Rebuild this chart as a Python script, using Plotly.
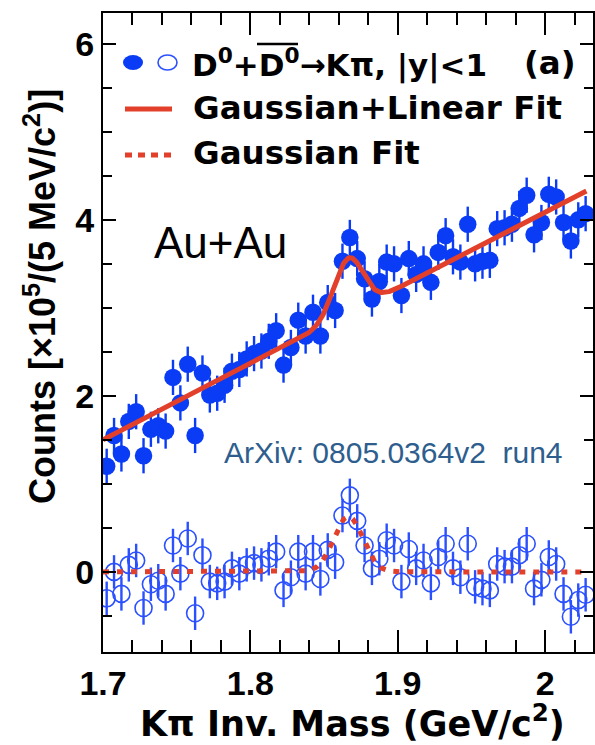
import numpy as np
import plotly.graph_objects as go

# ---------------- data ----------------
BIN_START = 1.7
BIN_WIDTH = 0.005
N_BINS = 66
mass = np.round(BIN_START + BIN_WIDTH * (np.arange(N_BINS) + 0.5), 4)

# filled points: D0 + D0bar candidates (x10^5 per 5 MeV/c^2)
counts_total = [
    1.20, 1.55, 1.34, 1.71, 1.82, 1.32, 1.62, 1.66, 1.60, 2.21,
    1.92, 2.36, 1.55, 2.26, 2.01, 2.03, 2.12, 2.28, 2.30, 2.42,
    2.48, 2.51, 2.62, 2.74, 2.35, 2.55, 2.86, 2.68, 2.95, 2.68,
    3.06, 2.97, 3.53, 3.80, 3.56, 3.33, 3.10, 3.30, 3.52, 3.50,
    3.14, 3.56, 3.38, 3.50, 3.29, 3.63, 3.82, 3.58, 3.52, 3.95,
    3.50, 3.53, 3.54, 3.90, 3.91, 3.95, 4.13, 4.28, 3.83, 3.97,
    4.29, 4.26, 3.97, 3.76, 4.00, 4.07,
]
# open points: after linear background subtraction
counts_signal = [
    -0.30, 0.00, -0.25, 0.08, 0.13, -0.41, -0.14, -0.10, -0.25, 0.30,
    -0.02, 0.38, -0.47, 0.19, -0.11, -0.13, -0.11, 0.04, -0.02, 0.08,
    0.10, 0.08, 0.15, 0.23, -0.21, -0.06, 0.23, -0.02, 0.23, -0.08,
    0.25, 0.11, 0.64, 0.87, 0.58, 0.30, 0.04, 0.15, 0.36, 0.30,
    -0.11, 0.26, 0.04, 0.13, -0.13, 0.17, 0.32, 0.04, -0.06, 0.32,
    -0.17, -0.19, -0.21, 0.09, 0.06, 0.06, 0.19, 0.32, -0.19, -0.09,
    0.17, 0.09, -0.25, -0.51, -0.32, -0.26,
]
ERR_TOTAL = 0.20
ERR_SIGNAL = 0.19

# fit parameters
GAUSS_AMP = 0.63
GAUSS_MU = 1.8665
GAUSS_SIGMA = 0.0098
LIN_P0 = 1.50     # value at 1.7 GeV/c^2
LIN_P1 = 8.62     # slope per GeV/c^2
FIT_MIN, FIT_MAX = 1.7, 2.028

X_TICKS = [1.7, 1.8, 1.9, 2.0]
X_TICK_LABELS = ["1.7", "1.8", "1.9", "2"]
Y_TICKS = [0, 2, 4, 6]
Y_TICK_LABELS = ["0", "2", "4", "6"]

# ---------------- styles ----------------
W, H = 595, 745
ML, MR, MT, MB = 103, 2, 13, 93
BLUE_FILL = "#0a3cf5"
BLUE_OPEN = "#2a50ff"
RED = "#e2402b"
FONT = "Liberation Sans, Arial, sans-serif"
WIDE = "DejaVu Sans, Verdana, sans-serif"

fine = np.linspace(FIT_MIN, FIT_MAX, 500)
gauss = GAUSS_AMP * np.exp(-0.5 * ((fine - GAUSS_MU) / GAUSS_SIGMA) ** 2)
linear = LIN_P0 + LIN_P1 * (fine - BIN_START)

fig = go.Figure()
fig.add_trace(go.Scatter(
    x=mass, y=counts_signal, mode="markers",
    marker=dict(symbol="circle-open", size=17, color=BLUE_OPEN, line=dict(width=1.6, color=BLUE_OPEN)),
    error_y=dict(type="constant", value=ERR_SIGNAL, color=BLUE_OPEN, thickness=2.4, width=0),
    showlegend=False,
))
fig.add_trace(go.Scatter(
    x=mass, y=counts_total, mode="markers",
    marker=dict(symbol="circle", size=17.5, color=BLUE_FILL, line=dict(width=0)),
    error_y=dict(type="constant", value=ERR_TOTAL, color=BLUE_FILL, thickness=2.4, width=0),
    showlegend=False,
))
fig.add_trace(go.Scatter(
    x=fine, y=linear + gauss, mode="lines",
    line=dict(color=RED, width=5), showlegend=False,
))
fig.add_trace(go.Scatter(
    x=fine, y=gauss, mode="lines",
    line=dict(color=RED, width=5, dash="6px,8px"), showlegend=False,
))

pw = W - ML - MR
ph = H - MT - MB


def px(xp):
    return (xp - ML) / pw


def py(yp):
    return (H - MB - yp) / ph


ann = []
lg = dict(family=WIDE, size=32.5, color="black")
ann.append(dict(text="<b>D<sup>0</sup>+D<sup>0</sup>→Kπ, |y|&lt;1</b>", x=px(190), y=py(63),
                xanchor="left", yanchor="middle", font=dict(family=WIDE, size=31, color="black")))
ann.append(dict(text="<b>(a)</b>", x=px(578), y=py(63), xanchor="right", yanchor="middle", font=lg))
ann.append(dict(text="<b>Gaussian+Linear Fit</b>", x=px(191), y=py(108),
                xanchor="left", yanchor="middle", font=lg))
ann.append(dict(text="<b>Gaussian Fit</b>", x=px(191), y=py(153),
                xanchor="left", yanchor="middle", font=lg))
ann.append(dict(text="Au+Au", x=px(220), y=py(243), xanchor="center", yanchor="middle",
                font=dict(family=FONT, size=44, color="black")))
ann.append(dict(text="ArXiv: 0805.0364v2&nbsp;&nbsp;run4", x=px(393), y=py(453), xanchor="center",
                yanchor="middle", font=dict(family=FONT, size=30, color="#2e5e8e")))
# axis titles
ann.append(dict(text="<b>Kπ Inv. Mass (GeV/c<sup>2</sup>)</b>", x=px(352), y=py(721),
                xanchor="center", yanchor="middle", font=dict(family=WIDE, size=35, color="black")))
ann.append(dict(text="<b>Counts [×10<sup>5</sup>/(5 MeV/c<sup>2</sup>)]</b>", x=px(40), y=py(297),
                xanchor="center", yanchor="middle", textangle=-90,
                font=dict(family=FONT, size=36, color="black")))
for a in ann:
    a.update(xref="paper", yref="paper", showarrow=False)

shapes = [
    dict(type="circle", xref="paper", yref="paper", x0=px(123), x1=px(143), y0=py(70), y1=py(55),
         fillcolor=BLUE_FILL, line=dict(width=0)),
    dict(type="circle", xref="paper", yref="paper", x0=px(158), x1=px(177), y0=py(70), y1=py(55),
         fillcolor="rgba(0,0,0,0)", line=dict(width=1.6, color=BLUE_OPEN)),
    dict(type="line", xref="paper", yref="paper", x0=px(125), x1=px(172), y0=py(109), y1=py(109),
         line=dict(width=5, color=RED)),
    dict(type="line", xref="paper", yref="paper", x0=px(125), x1=px(172), y0=py(155), y1=py(155),
         line=dict(width=5, color=RED, dash="7px,6px")),
    # overline on anti-D
    dict(type="line", xref="paper", yref="paper", x0=px(257), x1=px(298), y0=py(44), y1=py(44),
         line=dict(width=2.5, color="black")),
]

axis_common = dict(
    showline=True, linewidth=2, linecolor="black", mirror="ticks",
    ticks="inside", tickwidth=2, tickcolor="black",
    showgrid=False, zeroline=False,
    tickfont=dict(family=FONT, size=34, color="black"),
    automargin=False,
)

fig.update_layout(
    width=W, height=H,
    margin=dict(l=ML, r=MR, t=MT, b=MB),
    paper_bgcolor="white", plot_bgcolor="white",
    annotations=ann, shapes=shapes,
    xaxis=dict(
        range=[1.7, 2.0325], tickvals=X_TICKS, ticktext=[f"<b>{t}</b>" for t in X_TICK_LABELS],
        ticklen=22, minor=dict(dtick=0.02, tick0=1.7, ticks="inside", ticklen=12, tickwidth=2, tickcolor="black"),
        **axis_common,
    ),
    yaxis=dict(
        range=[-0.91, 6.35], tickvals=Y_TICKS, ticktext=[f"<b>{t}</b>" for t in Y_TICK_LABELS],
        ticklen=13, minor=dict(dtick=0.5, tick0=0, ticks="inside", ticklen=9, tickwidth=2, tickcolor="black"),
        **axis_common,
    ),
)

fig.write_html("out.html")
